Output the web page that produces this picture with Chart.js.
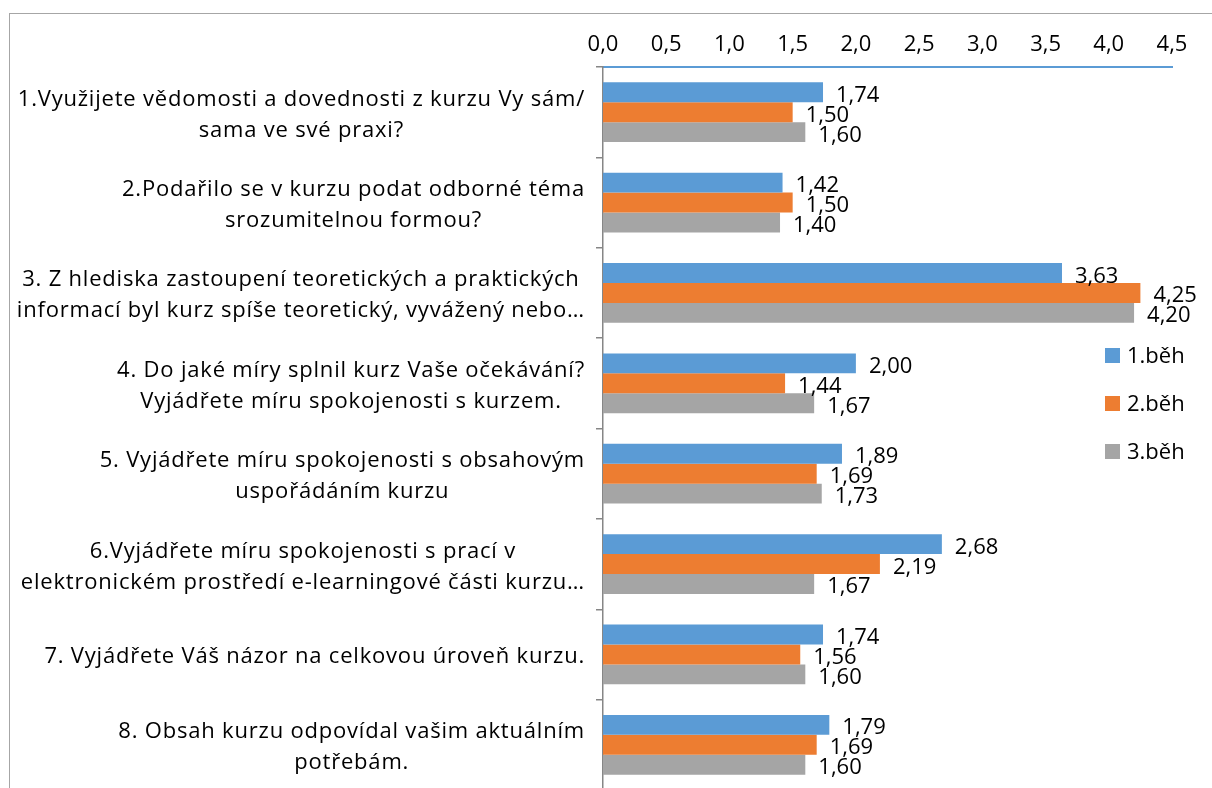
<!DOCTYPE html>
<html>
<head>
<meta charset="utf-8">
<title>Hodnocení kurzu</title>
<script src="https://cdn.jsdelivr.net/npm/chart.js@4.4.0/dist/chart.umd.min.js"></script>
<style>
    html, body { margin: 0; padding: 0; background: #fff; overflow: hidden; }
    #wrap { width: 1212px; height: 800px; position: relative; }
    canvas { display: block; }
</style>
</head>
<body>
<div id="wrap"><canvas id="chart" width="1212" height="800"></canvas></div>
<script>
// Otázky (každá položka = řádky popisku)
const questions = [
    ['1.Využijete vědomosti a dovednosti z kurzu Vy sám/', 'sama ve své praxi?'],
    ['2.Podařilo se v kurzu podat odborné téma', 'srozumitelnou formou?'],
    ['3. Z hlediska zastoupení teoretických a praktických', 'informací byl kurz spíše teoretický, vyvážený nebo…'],
    ['4. Do jaké míry splnil kurz Vaše očekávání?', 'Vyjádřete míru spokojenosti s kurzem.'],
    ['5. Vyjádřete míru spokojenosti s obsahovým', 'uspořádáním kurzu'],
    ['6.Vyjádřete míru spokojenosti s prací v', 'elektronickém prostředí e-learningové části kurzu…'],
    ['7. Vyjádřete Váš názor na celkovou úroveň kurzu.'],
    ['8. Obsah kurzu odpovídal vašim aktuálním', 'potřebám.']
];

const seriesNames = ['1.běh', '2.běh', '3.běh'];
const run1 = [1.74, 1.42, 3.63, 2.00, 1.89, 2.68, 1.74, 1.79];
const run2 = [1.50, 1.50, 4.25, 1.44, 1.69, 2.19, 1.56, 1.69];
const run3 = [1.60, 1.40, 4.20, 1.67, 1.73, 1.67, 1.60, 1.60];

const axisMin = 0;
const axisMax = 4.5;
const axisStep = 0.5;

const colors = ['#5B9BD5', '#ED7D31', '#A5A5A5'];
const FONT = '"Open Sans", "Noto Sans", sans-serif';
const FSIZE = 22;

const fmt = (v, d) => v.toFixed(d).replace('.', ',');

// rámeček grafu
const framePlugin = {
    id: 'frame',
    beforeDraw(chart) {
        const ctx = chart.ctx;
        ctx.save();
        ctx.strokeStyle = '#A6A6A6';
        ctx.lineWidth = 1;
        ctx.strokeRect(9.5, 13.5, 1400, 1000);
        ctx.restore();
    }
};

// popisky kategorií - blok vycentrovaný, zarovnaný k ose
const catLabelsPlugin = {
    id: 'catLabels',
    afterDraw(chart) {
        const ctx = chart.ctx;
        const yScale = chart.scales.y;
        const rightEdge = 585;
        const lineH = 31;
        ctx.save();
        ctx.font = FSIZE + 'px ' + FONT;
        ctx.letterSpacing = '0.8px';
        ctx.fillStyle = '#000';
        ctx.textAlign = 'center';
        ctx.textBaseline = 'alphabetic';
        questions.forEach((lines, i) => {
            const y = yScale.getPixelForTick(i);
            const maxW = Math.max(...lines.map(l => ctx.measureText(l).width));
            const cx = rightEdge - maxW / 2;
            const first = y - (lines.length - 1) * lineH / 2 + 9;
            lines.forEach((l, j) => ctx.fillText(l, cx, first + j * lineH));
        });
        ctx.restore();
    }
};

// hodnoty u sloupců
const valueLabelsPlugin = {
    id: 'valueLabels',
    afterDatasetsDraw(chart) {
        const ctx = chart.ctx;
        ctx.save();
        ctx.font = FSIZE + 'px ' + FONT;
        ctx.fillStyle = '#000';
        ctx.textAlign = 'left';
        ctx.textBaseline = 'alphabetic';
        chart.data.datasets.forEach((ds, di) => {
            chart.getDatasetMeta(di).data.forEach((bar, i) => {
                ctx.fillText(fmt(ds.data[i], 2), bar.x + 13, bar.y + 9.5);
            });
        });
        ctx.restore();
    }
};

// legenda umístěná ručně uvnitř plochy
const legendPlugin = {
    id: 'manualLegend',
    afterDraw(chart) {
        const ctx = chart.ctx;
        ctx.save();
        ctx.font = FSIZE + 'px ' + FONT;
        ctx.textBaseline = 'alphabetic';
        seriesNames.forEach((name, i) => {
            const y = 355.5 + i * 48;
            ctx.fillStyle = colors[i];
            ctx.fillRect(1105, y - 7.5, 15, 15);
            ctx.fillStyle = '#000';
            ctx.fillText(name, 1127, y + 7.5);
        });
        ctx.restore();
    }
};

const ctx = document.getElementById('chart').getContext('2d');

new Chart(ctx, {
    type: 'bar',
    data: {
        labels: questions.map(q => q.join(' ')),
        datasets: [run1, run2, run3].map((d, i) => ({
            label: seriesNames[i],
            data: d,
            backgroundColor: colors[i],
            borderWidth: 0,
            categoryPercentage: 0.66,
            barPercentage: 1.0
        }))
    },
    options: {
        indexAxis: 'y',
        responsive: false,
        animation: false,
        devicePixelRatio: 1,
        layout: {
            padding: { top: 14, right: 40, bottom: 10, left: 0 }
        },
        plugins: {
            legend: { display: false },
            tooltip: { enabled: false }
        },
        scales: {
            x: {
                position: 'top',
                min: axisMin,
                max: axisMax,
                afterFit(scale) { scale.height = 53; },
                ticks: {
                    stepSize: axisStep,
                    padding: 9,
                    color: '#000',
                    font: { family: FONT, size: FSIZE },
                    callback: v => fmt(v, 1)
                },
                grid: { display: false, drawTicks: false },
                border: { display: true, color: '#5B9BD5', width: 2 }
            },
            y: {
                afterFit(scale) { scale.width = 603; },
                ticks: { display: false },
                grid: {
                    display: true,
                    drawOnChartArea: false,
                    drawTicks: true,
                    tickLength: 7,
                    color: '#868686',
                    lineWidth: 1.5
                },
                border: { display: true, color: '#868686', width: 1.5 }
            }
        }
    },
    plugins: [framePlugin, catLabelsPlugin, valueLabelsPlugin, legendPlugin]
});
</script>
</body>
</html>
